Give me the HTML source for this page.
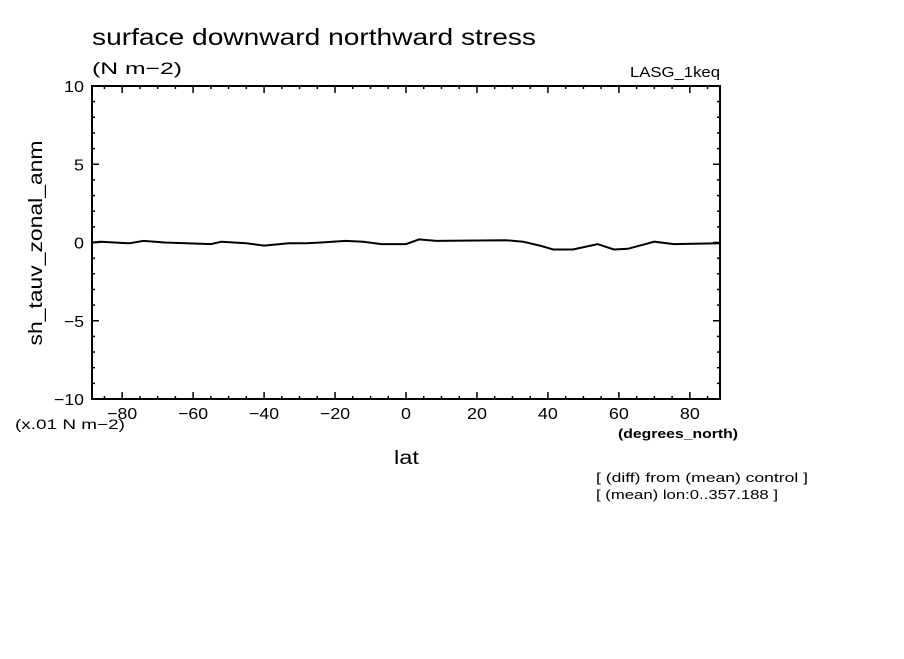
<!DOCTYPE html>
<html><head><meta charset="utf-8"><style>
body{margin:0;background:#fff;}
svg text{font-family:"Liberation Sans",sans-serif;fill:#000;}
</style></head><body>
<svg id="chart" width="904" height="654" xmlns="http://www.w3.org/2000/svg">
<rect width="904" height="654" fill="#fff"/>
<text x="92" y="45" font-size="23" textLength="444" lengthAdjust="spacingAndGlyphs">surface downward northward stress</text>
<text x="92" y="74" font-size="17" textLength="90" lengthAdjust="spacingAndGlyphs">(N m−2)</text>
<text x="630" y="77" font-size="15" textLength="90" lengthAdjust="spacingAndGlyphs">LASG_1keq</text>
<text x="0" y="0" font-size="19" text-anchor="middle" textLength="205" lengthAdjust="spacingAndGlyphs" transform="translate(42,243) rotate(-90)">sh_tauv_zonal_anm</text>
<text x="15" y="429" font-size="14" textLength="110" lengthAdjust="spacingAndGlyphs">(x.01 N m−2)</text>
<text x="394" y="464" font-size="19" textLength="25" lengthAdjust="spacingAndGlyphs">lat</text>
<text x="618" y="438" font-size="13" font-weight="bold" textLength="120" lengthAdjust="spacingAndGlyphs">(degrees_north)</text>
<text x="596" y="482" font-size="13" textLength="212" lengthAdjust="spacingAndGlyphs">[ (diff) from (mean) control ]</text>
<text x="596" y="499" font-size="13" textLength="182" lengthAdjust="spacingAndGlyphs">[ (mean) lon:0..357.188 ]</text>
<g id="axes"></g>
<path id="series" fill="none" stroke="#000" stroke-width="2"/>
<rect x="92" y="86" width="628" height="313" fill="none" stroke="#000" stroke-width="2"/>
</svg>
<script>
const lats=[-88.5,-86,-78,-74,-68,-62,-55,-52,-45,-40,-33,-28,-24,-17,-12,-7,-2,0,3.7,8.5,28,33,37.7,41.5,47,54,58.6,62.5,70,75.5,88.5];
const vals=[0,0.05,-0.05,0.1,0,-0.05,-0.1,0.05,-0.05,-0.2,-0.05,-0.05,0,0.1,0.05,-0.1,-0.1,-0.1,0.2,0.1,0.15,0.05,-0.2,-0.45,-0.45,-0.1,-0.45,-0.4,0.05,-0.1,-0.05];
const xTicks=[-80,-60,-40,-20,0,20,40,60,80];
const yTicks=[10,5,0,-5,-10];
const X0=92,X1=720,Y0=86,Y1=399,LMIN=-88.5,LMAX=88.5;
const xs=v=>X0+(v-LMIN)/(LMAX-LMIN)*(X1-X0);
const ys=v=>Y1-(v+10)/20*(Y1-Y0);
const ns="http://www.w3.org/2000/svg";
const g=document.getElementById('axes');
function ln(x1,y1,x2,y2){const l=document.createElementNS(ns,'line');l.setAttribute('x1',x1);l.setAttribute('y1',y1);l.setAttribute('x2',x2);l.setAttribute('y2',y2);l.setAttribute('stroke','#000');l.setAttribute('stroke-width',1.5);


g.appendChild(l);}
function tx(x,y,s,a,w){const t=document.createElementNS(ns,'text');t.setAttribute('x',x);t.setAttribute('y',y);t.setAttribute('font-size',16);t.setAttribute('text-anchor',a);t.setAttribute('textLength',w);t.setAttribute('lengthAdjust','spacingAndGlyphs');t.textContent=s;


g.appendChild(t);}
for(let v=-85;v<=85;v+=5){const x=xs(v);const L=(v%20===0)?7:3;ln(x,Y1,x,Y1-L);ln(x,Y0,x,Y0+L);}
for(let v=-10;v<=10;v++){const y=ys(v);const L=(v%5===0)?7:3;ln(X0,y,X0+L,y);ln(X1,y,X1-L,y);}
xTicks.forEach(v=>{const s=String(v).replace('-','−');tx(xs(v),419,s,'middle',s.length*10);});
yTicks.forEach(v=>{const s=String(v).replace('-','−');tx(84,ys(v)+6,s,'end',s.length*10);});
let d='';lats.forEach((l,i)=>{d+=(i?'L':'M')+xs(l).toFixed(1)+' '+ys(vals[i]).toFixed(1);});
document.getElementById('series').setAttribute('d',d);
</script>
</body></html>
